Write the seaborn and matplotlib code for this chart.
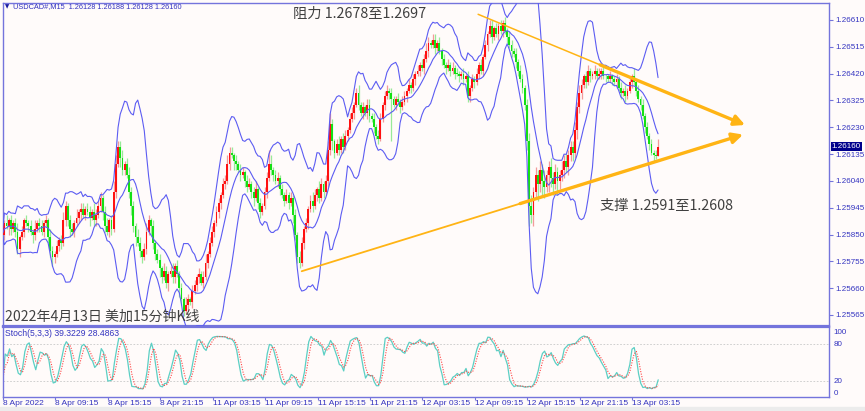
import numpy as np
import pandas as pd
import matplotlib
matplotlib.use('Agg')
import matplotlib.pyplot as plt
import seaborn as sns

# USDCAD M15 closes, in pips above 1.2500 (8 Apr 03:15 -> 13 Apr 06:15)
close_pips = [
    85, 89, 88, 90, 87, 89, 86, 80, 84, 86,
    90, 89, 88, 86, 85, 87, 89, 88, 86, 89,
    90, 84, 79, 77, 78, 81, 83, 82, 90, 95,
    90, 87, 86, 89, 91, 93, 94, 92, 94, 93,
    91, 93, 90, 92, 95, 98, 93, 88, 86, 90,
    87, 100, 110, 116, 112, 108, 110, 106, 100, 95,
    88, 84, 82, 79, 77, 80, 86, 90, 88, 82,
    78, 76, 73, 70, 72, 68, 71, 72, 70, 74,
    71, 66, 62, 58, 60, 62, 61, 65, 67, 70,
    71, 68, 70, 75, 78, 82, 86, 89, 93, 96,
    99, 103, 104, 110, 114, 113, 111, 110, 108, 106,
    107, 104, 102, 103, 100, 98, 101, 96, 93, 95,
    100, 105, 110, 108, 106, 104, 105, 101, 99, 97,
    99, 96, 98, 92, 85, 77, 75, 82, 87, 89,
    94, 97, 95, 99, 101, 98, 103, 100, 104, 115,
    124, 118, 114, 117, 115, 119, 116, 120, 122, 126,
    128, 131, 135, 131, 128, 130, 128, 131, 127, 126,
    123, 120, 119, 126, 131, 134, 136, 135, 133, 131,
    133, 132, 130, 132, 134, 136, 138, 137, 140, 142,
    143, 145, 144, 147, 150, 153, 152, 154, 151, 153,
    150, 147, 145, 144, 145, 143, 144, 142, 142, 141,
    142, 140, 141, 134, 137, 140, 139, 142, 145, 143,
    148, 152, 156, 159, 155, 158, 156, 159, 157, 160,
    157, 155, 152, 150, 149, 146, 143, 140, 137, 131,
    118, 95, 92, 100, 106, 103, 108, 104, 102, 106,
    109, 105, 103, 107, 104, 106, 108, 111, 109, 113,
    116, 114, 122, 130, 135, 138, 141, 139, 143, 141,
    142, 143, 141, 142, 143, 141, 141, 140, 141, 140,
    139, 140, 137, 135, 136, 134, 136, 139, 141, 139,
    136, 133, 131, 127, 123, 120, 117, 114, 113, 112.8,
    116.0,
]
first_open = 86

upper_wick = [
    2, 1, 3, 1, 2, 1, 2, 3, 1, 2,
    1, 2, 1, 2, 1, 3, 1, 2, 2, 1,
    2, 1, 3, 2, 1, 2, 1, 2, 3, 2,
    1, 2, 2, 1, 3, 1, 2, 2, 1, 2,
    2, 1, 3, 2, 2, 2, 1, 2, 3, 1,
    2, 4, 3, 2, 2, 3, 1, 2, 3, 2,
    2, 1, 3, 2, 1, 2, 3, 2, 1, 2,
    1, 2, 2, 1, 3, 2, 1, 2, 3, 1,
    2, 1, 2, 1, 3, 2, 1, 2, 2, 1,
    2, 1, 2, 3, 1, 2, 2, 1, 2, 2,
    1, 2, 2, 3, 2, 2, 1, 2, 1, 2,
    2, 1, 2, 2, 1, 2, 3, 1, 2, 1,
    2, 2, 5, 3, 1, 2, 2, 1, 2, 1,
    2, 1, 2, 1, 2, 1, 2, 2, 1, 2,
    1, 2, 3, 2, 1, 3, 2, 1, 2, 3,
    4, 2, 1, 2, 3, 1, 2, 2, 1, 2,
    2, 1, 2, 3, 1, 2, 1, 2, 2, 1,
    2, 1, 2, 2, 1, 2, 2, 1, 2, 1,
    1, 2, 1, 2, 2, 1, 2, 1, 2, 1,
    2, 1, 2, 2, 3, 2, 1, 2, 2, 1,
    2, 1, 2, 1, 2, 1, 2, 1, 2, 1,
    1, 2, 1, 2, 1, 2, 1, 2, 1, 2,
    1, 2, 1, 2, 2, 1, 2, 1, 2, 1,
    2, 1, 2, 2, 1, 2, 1, 2, 2, 1,
    2, 3, 4, 2, 3, 2, 3, 2, 4, 2,
    2, 3, 2, 3, 2, 2, 3, 2, 3, 2,
    2, 2, 3, 2, 3, 2, 1, 2, 2, 1,
    1, 2, 1, 2, 1, 2, 1, 1, 2, 1,
    1, 2, 1, 2, 1, 2, 1, 2, 1, 3,
    1, 2, 1, 2, 1, 2, 1, 2, 1, 2,
    2.8,
]
lower_wick = [
    1, 2, 1, 3, 2, 1, 2, 2, 3, 1,
    2, 1, 2, 1, 3, 2, 1, 2, 1, 2,
    1, 2, 2, 3, 2, 1, 2, 2, 1, 2,
    2, 3, 1, 2, 1, 2, 3, 1, 2, 1,
    3, 1, 2, 2, 1, 2, 3, 2, 1, 2,
    2, 1, 2, 1, 3, 2, 2, 1, 2, 3,
    2, 3, 1, 2, 2, 1, 2, 1, 3, 2,
    2, 1, 3, 2, 1, 2, 3, 1, 2, 2,
    1, 3, 2, 2, 1, 2, 1, 2, 1, 2,
    2, 1, 2, 1, 2, 1, 1, 2, 1, 2,
    2, 1, 2, 1, 2, 1, 3, 2, 1, 2,
    1, 2, 2, 1, 2, 3, 1, 2, 2, 1,
    1, 2, 1, 2, 2, 1, 2, 2, 1, 2,
    1, 2, 1, 3, 2, 2, 2, 1, 2, 1,
    2, 1, 2, 1, 2, 2, 1, 2, 1, 2,
    2, 3, 2, 1, 2, 1, 2, 1, 2, 1,
    1, 2, 1, 2, 1, 2, 1, 2, 2, 1,
    2, 1, 2, 1, 1, 2, 1, 2, 15, 1,
    2, 1, 2, 1, 1, 2, 1, 2, 1, 2,
    1, 2, 1, 2, 1, 2, 1, 1, 2, 1,
    1, 2, 1, 2, 1, 2, 1, 2, 1, 2,
    1, 2, 1, 2, 2, 1, 2, 1, 2, 1,
    2, 1, 2, 1, 2, 1, 1, 2, 1, 2,
    1, 2, 1, 2, 1, 2, 2, 1, 2, 2,
    3, 7, 3, 4, 2, 6, 3, 5, 4, 2,
    6, 3, 4, 2, 5, 3, 2, 3, 2, 3,
    2, 3, 2, 3, 2, 2, 1, 2, 1, 2,
    1, 2, 1, 1, 2, 1, 2, 1, 1, 2,
    1, 2, 1, 2, 1, 2, 1, 1, 2, 1,
    2, 1, 2, 1, 2, 1, 2, 1, 2, 1,
    0,
]

tick_bars = [0, 24, 48, 72, 96, 120, 144, 168, 192, 216, 240, 264, 288]
tick_labels = ['8 Apr 2022', '8 Apr 09:15', '8 Apr 15:15', '8 Apr 21:15',
               '11 Apr 03:15', '11 Apr 09:15', '11 Apr 15:15', '11 Apr 21:15',
               '12 Apr 03:15', '12 Apr 09:15', '12 Apr 15:15', '12 Apr 21:15',
               '13 Apr 03:15']
price_ticks = [1.26610, 1.26515, 1.26420, 1.26325, 1.26230, 1.26135,
               1.26040, 1.25945, 1.25850, 1.25755, 1.25660, 1.25565]
stoch_ticks = [0, 20, 80, 100]
last_price = 1.26160

# trend lines (bar index, price)
resist_line = [(217.7, 1.26630), (339.8, 1.26238)]
resist_thick_from = 273.5
support_line = [(137.0, 1.25720), (338.9, 1.26204)]
support_thick_from = 236.9

BB_N, BB_DEV = 10, 2.8

W, H = 865, 411
BG = '#fffbfa'
FRAME = '#7474dc'
TXT = '#3434c0'
ORANGE = '#ffb414'

sns.set_theme(style='white')
plt.rcParams['font.family'] = ['Liberation Sans', 'DejaVu Sans']
CJK = ['Noto Sans CJK SC', 'DejaVu Sans']

close = 1.25 + np.array(close_pips, dtype=float) / 1e4
opens = np.concatenate([[1.25 + first_open / 1e4], close[:-1]])
highs = np.maximum(opens, close) + np.array(upper_wick) / 1e4
lows = np.minimum(opens, close) - np.array(lower_wick) / 1e4
bars = np.arange(len(close))

cs = pd.Series(close)
mid = cs.rolling(BB_N, min_periods=1).mean()
sd = cs.rolling(BB_N, min_periods=1).std(ddof=0)
bb_up = (mid + BB_DEV * sd).values
bb_lo = (mid - BB_DEV * sd).values

hh = pd.Series(highs).rolling(5, min_periods=1).max()
ll = pd.Series(lows).rolling(5, min_periods=1).min()
num = (cs - ll).rolling(3, min_periods=1).sum()
den = (hh - ll).rolling(3, min_periods=1).sum()
k_line = (100 * num / den).values
d_line = pd.Series(k_line).rolling(3, min_periods=1).mean().values

fig = plt.figure(figsize=(W / 100, H / 100), dpi=100, facecolor=BG)
ax = fig.add_axes([3 / W, 1 - 326 / H, 826 / W, 323 / H], facecolor=BG)
ax2 = fig.add_axes([3 / W, 1 - 397 / H, 826 / W, 70 / H], facecolor=BG)
fig.patches.append(plt.Rectangle((0, 0), 1, 4 / H, transform=fig.transFigure,
                                 color='#ececec', zorder=0))

# candles
up = close > opens
body_col = np.where(up, '#ff1010', '#14e014')
wick_col = np.where(up, '#f39a9a', '#98ea98')
ax.vlines(bars, lows, highs, colors=wick_col, lw=0.9, zorder=2)
ax.bar(bars, np.maximum(np.abs(close - opens), 0.00003), bottom=np.minimum(opens, close),
       width=0.85, color=body_col, linewidth=0, zorder=3)

# bollinger bands
for line in (bb_up, mid.values, bb_lo):
    sns.lineplot(x=bars, y=line, ax=ax, color='#5c5cf2', lw=0.8, zorder=4)

# triangle lines
(x0, y0), (x1, y1) = resist_line
ax.plot([x0, x1 - 3], [y0, y1 + (y0 - y1) * 3 / (x1 - x0)], color=ORANGE, lw=1.1, zorder=5)
ys = y0 + (y1 - y0) * (resist_thick_from - x0) / (x1 - x0)
ax.annotate('', xy=(x1, y1), xytext=(resist_thick_from, ys),
            arrowprops=dict(arrowstyle='-|>,head_length=0.7,head_width=0.35', color=ORANGE,
                            lw=2.4, shrinkA=0, shrinkB=0, mutation_scale=9), zorder=5)
(x0, y0), (x1, y1) = support_line
ax.plot([x0, x1 - 3], [y0, y1 - (y1 - y0) * 3 / (x1 - x0)], color=ORANGE, lw=1.3, zorder=5)
ys = y0 + (y1 - y0) * (support_thick_from - x0) / (x1 - x0)
ax.annotate('', xy=(x1, y1), xytext=(support_thick_from, ys),
            arrowprops=dict(arrowstyle='-|>,head_length=0.7,head_width=0.35', color=ORANGE,
                            lw=2.4, shrinkA=0, shrinkB=0, mutation_scale=9), zorder=5)

ax.set_xlim(0.37, 378.2)
ax.set_ylim(1.25526, 1.26670)
ax.yaxis.tick_right()
ax.set_yticks(price_ticks)
ax.set_yticklabels([f'{v:.5f}' for v in price_ticks])
ax.set_xticks([])
ax.tick_params(axis='y', right=True, length=3, width=0.8, color=FRAME,
               labelsize=5.8, labelcolor=TXT, pad=1.5)
ax.set_xlabel('')
ax.set_ylabel('')

# stochastic
ax2.axhline(80, color='#c8c8c8', lw=0.6, ls=(0, (2, 2)))
ax2.axhline(20, color='#c8c8c8', lw=0.6, ls=(0, (2, 2)))
sns.lineplot(x=bars, y=k_line, ax=ax2, color='#5ccfc4', lw=0.9)
sns.lineplot(x=bars, y=d_line, ax=ax2, color='#ff4646', lw=0.8, ls=(0, (1, 1.3)))
ax2.set_xlim(0.37, 378.2)
ax2.set_ylim(-6.6, 107.7)
ax2.yaxis.tick_right()
ax2.set_yticks(stoch_ticks)
ax2.set_yticklabels([str(v) for v in stoch_ticks])
ax2.tick_params(axis='y', right=True, length=0, labelsize=5.8, labelcolor=TXT, pad=3.5)
ax2.set_xticks(tick_bars)
ax2.set_xticklabels(tick_labels)
ax2.tick_params(axis='x', bottom=True, length=2.5, width=0.8, color=FRAME,
                labelsize=6, labelcolor=TXT, pad=0)
for lab in ax2.get_xticklabels():
    lab.set_ha('left')
ax2.set_xlabel('')
ax2.set_ylabel('')

for a in (ax, ax2):
    for s in a.spines.values():
        s.set_color(FRAME)
        s.set_linewidth(1.0)
ax.spines['bottom'].set_linewidth(1.6)
ax2.spines['top'].set_linewidth(1.6)

# texts
def fx(px):
    return px / W

def fy(py):
    return 1 - py / H

fig.text(fx(5), fy(7), '\u25bc', fontsize=4, color='#1a1aa0', va='center', ha='left',
         family=['DejaVu Sans'])
fig.text(fx(13), fy(7), 'USDCAD#,M15  1.26128 1.26188 1.26128 1.26160', fontsize=5.3,
         color=TXT, va='center', ha='left')
fig.text(fx(5), fy(333), 'Stoch(5,3,3) 39.3229 28.4863', fontsize=6.2, color=TXT,
         va='center', ha='left')
fig.text(fx(831.5), fy(146.3), f'{last_price:.5f}', fontsize=5.8, color='white',
         va='center', ha='left',
         bbox=dict(boxstyle='square,pad=0.12', fc='#00008b', ec='none'))
fig.text(fx(293), fy(14), '阻力 1.2678至1.2697', fontsize=10.3, color='#404040',
         va='center', ha='left', family=CJK)
fig.text(fx(600), fy(206), '支撑 1.2591至1.2608', fontsize=10.3, color='#404040',
         va='center', ha='left', family=CJK)
fig.text(fx(5), fy(316.5), '2022年4月13日 美加15分钟K线', fontsize=10.1, color='#404040',
         va='center', ha='left', family=CJK)

fig.savefig('out.png', dpi=100, facecolor=BG)
